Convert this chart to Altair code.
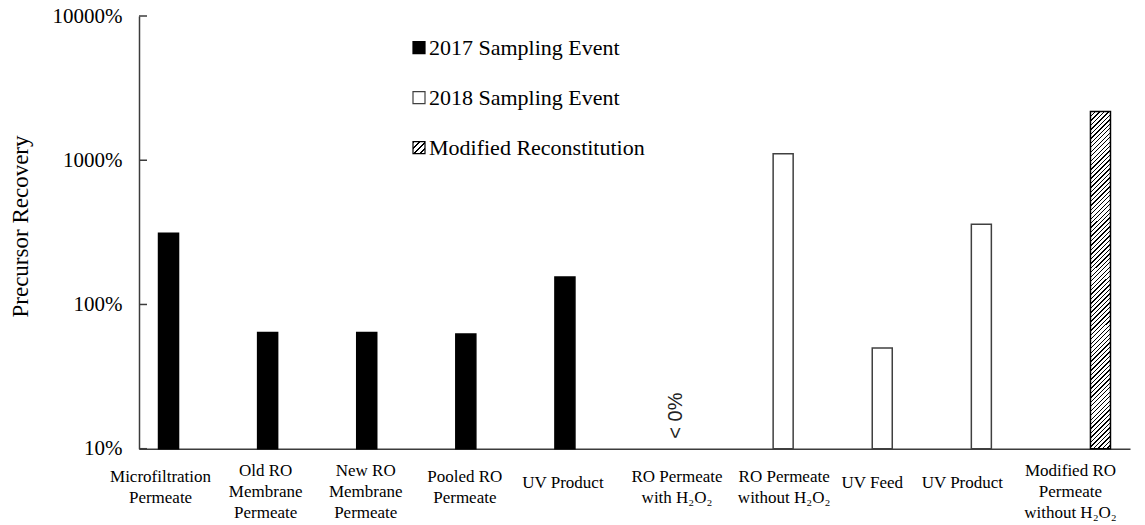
import json

import altair as alt
import numpy as np
import pandas as pd

# ---- data -------------------------------------------------------------
SAMPLES = [
    "Microfiltration\nPermeate",
    "Old RO\nMembrane\nPermeate",
    "New RO\nMembrane\nPermeate",
    "Pooled RO\nPermeate",
    "UV Product",
    "RO Permeate\nwith H₂O₂",
    "RO Permeate\nwithout H₂O₂",
    "UV Feed",
    "UV Product",
    "Modified RO\nPermeate\nwithout H₂O₂",
]
EVENTS = ["2017 Sampling Event", "2018 Sampling Event", "Modified Reconstitution"]
SAMPLE_EVENT = [0, 0, 0, 0, 0, 1, 1, 1, 1, 2]
# precursor recovery in percent; None = below zero, not drawable on a log axis
RECOVERY = [312, 64, 64, 62.5, 155, None, 1110, 50, 360, 2180]
BELOW_ZERO_NOTE = "< 0%"
Y_TICKS = [10, 100, 1000, 10000]

# ---- layout / style ---------------------------------------------------
PLOT_W, PLOT_H = 991, 432.7
BAR_W = 20
SERIF = "Liberation Serif"
SANS = "Liberation Sans"
AXIS_COLOR = "#3c3c3c"
INK = "#000000"
# horizontal nudge of each category label (px) and gap below the axis
# for the first line, which depends on how many lines the label has
LABEL_SHIFT = [-28, -22, -21, -21, -22, -7, 1, -10, -19, -10]
FIRST_LINE_GAP = {1: 34, 2: 28, 3: 22}

rows = []
for i, (v, e) in enumerate(zip(RECOVERY, SAMPLE_EVENT)):
    rows.append({"pos": i, "event": EVENTS[e], "recovery": v})
df = pd.DataFrame(rows)
bars_df = df[df["recovery"].notna()]
note_df = df[df["recovery"].isna()].assign(note=BELOW_ZERO_NOTE)


def hatch_fill(width_px, height_px, periods, frac=0.3):
    """Diagonal '/' hatching built from a hard-stop linear gradient."""
    r = width_px / height_px
    b = (1 + r) / (1 + r * r)
    a = r * b
    stops = []
    for k in range(periods):
        t0, t1, t2 = k / periods, (k + frac) / periods, (k + 1) / periods
        stops += [
            {"offset": t0, "color": INK},
            {"offset": t1, "color": INK},
            {"offset": t1, "color": "#ffffff"},
            {"offset": t2, "color": "#ffffff"},
        ]
    return {"gradient": "linear", "x1": 0, "y1": 0, "x2": a, "y2": b, "stops": stops}


y_min, y_max = Y_TICKS[0], Y_TICKS[-1]
decades = np.log10(y_max / y_min)
mod_value = RECOVERY[SAMPLE_EVENT.index(2)]
mod_height = PLOT_H * np.log10(mod_value / y_min) / decades
bar_hatch = hatch_fill(BAR_W, mod_height, int(round(mod_height / 4.2)))
key_hatch = hatch_fill(12, 12, 4, frac=0.35)

y_scale = alt.Scale(type="log", domain=[y_min, y_max])
x_scale = alt.Scale(paddingInner=0, paddingOuter=0)
offset_scale = alt.Scale(domain=EVENTS, paddingInner=0, paddingOuter=0.975)

label_expr = "split(" + json.dumps(SAMPLES, ensure_ascii=False) + "[datum.value], '\\n')"
shift_cond = [{"test": f"datum.value == {i}", "value": s} for i, s in enumerate(LABEL_SHIFT)]
gap_cond = [
    {"test": f"datum.value == {i}", "value": FIRST_LINE_GAP[s.count(chr(10)) + 1]}
    for i, s in enumerate(SAMPLES)
]

x_enc = alt.X(
    "pos:O",
    scale=x_scale,
    axis=alt.Axis(
        title=None,
        labelExpr=label_expr,
        labelAngle=0,
        labelOverlap=False,
        labelBound=False,
        labelLimit=0,
        labelFont=SERIF,
        labelFontSize=17,
        labelColor=INK,
        labelLineHeight=21,
        labelBaseline="middle",
        labelPadding={"condition": gap_cond, "value": 30},
        labelOffset={"condition": shift_cond, "value": 0},
        ticks=False,
        tickSize=0,
        domainColor=AXIS_COLOR,
        domainWidth=1.5,
        grid=False,
    ),
)
y_enc = alt.Y(
    "recovery:Q",
    scale=y_scale,
    axis=alt.Axis(
        title="Precursor Recovery",
        values=Y_TICKS,
        labelExpr="datum.value + '%'",
        labelFont=SERIF,
        labelFontSize=21,
        labelColor=INK,
        labelPadding=17,
        ticks=False,
        tickSize=0,
        domainColor=AXIS_COLOR,
        domainWidth=1.5,
        grid=False,
        titleFont=SERIF,
        titleFontSize=23,
        titleFontWeight="normal",
        titleColor=INK,
        titleAngle=270,
        titleX=-119,
        titleY=210,
        titleAlign="center",
        titleBaseline="middle",
    ),
)
offset_enc = alt.XOffset("event:N", scale=offset_scale)
base_enc = alt.datum(y_min)

sampled = (
    alt.Chart(bars_df)
    .transform_filter(alt.FieldOneOfPredicate(field="event", oneOf=EVENTS[:2]))
    .mark_bar(strokeWidth=1.5)
    .encode(
        x=x_enc,
        xOffset=offset_enc,
        y=y_enc,
        y2=base_enc,
        fill=alt.Fill("event:N", scale=alt.Scale(domain=EVENTS[:2], range=[INK, "#ffffff"]), legend=None),
        stroke=alt.Stroke("event:N", scale=alt.Scale(domain=EVENTS[:2], range=[INK, "#404040"]), legend=None),
    )
)

modified = (
    alt.Chart(bars_df)
    .transform_filter(alt.FieldEqualPredicate(field="event", equal=EVENTS[2]))
    .mark_bar(strokeWidth=1.5, stroke=INK, fill=bar_hatch)
    .encode(x=x_enc, xOffset=offset_enc, y=y_enc, y2=base_enc)
)

# inward-pointing ticks on the value axis
tick_marks = (
    alt.Chart(pd.DataFrame({"recovery": Y_TICKS}))
    .mark_rule(color=AXIS_COLOR, strokeWidth=1.5)
    .encode(y=alt.Y("recovery:Q", scale=y_scale), x=alt.value(0), x2=alt.value(8))
)

note = (
    alt.Chart(note_df)
    .mark_text(font=SANS, fontSize=20, angle=270, align="left", baseline="middle",
               dx=10, dy=-8, color="#222222")
    .encode(x=x_enc, xOffset=offset_enc, y=alt.datum(y_min), text="note:N")
)

# ---- hand-built key ---------------------------------------------------
KEY_X, KEY_Y0, KEY_STEP, KEY_SIZE = 274, 31.7, 50, 12
key_fills = [INK, "#ffffff", key_hatch]
key_strokes = [INK, "#404040", INK]
key_layers = []
one = alt.Data(values=[{}])
for i, label in enumerate(EVENTS):
    cy = KEY_Y0 + i * KEY_STEP
    key_layers.append(
        alt.Chart(one)
        .mark_rect(fill=key_fills[i], stroke=key_strokes[i], strokeWidth=1.2)
        .encode(
            x=alt.value(KEY_X),
            x2=alt.value(KEY_X + KEY_SIZE),
            y=alt.value(cy - KEY_SIZE / 2),
            y2=alt.value(cy + KEY_SIZE / 2),
        )
    )
    key_layers.append(
        alt.Chart(one)
        .mark_text(font=SERIF, fontSize=22, align="left", baseline="middle", color=INK)
        .encode(x=alt.value(KEY_X + KEY_SIZE + 4), y=alt.value(cy), text=alt.value(label))
    )

chart = (
    alt.layer(sampled, modified, tick_marks, note, *key_layers)
    .properties(
        width=PLOT_W,
        height=PLOT_H,
        autosize=alt.AutoSizeParams(type="none"),
        padding={"left": 139, "top": 16, "right": 15, "bottom": 76.3},
        background="#ffffff",
    )
    .configure_view(stroke=None)
)

chart.save("out.html", embed_options={"renderer": "svg", "actions": False})
